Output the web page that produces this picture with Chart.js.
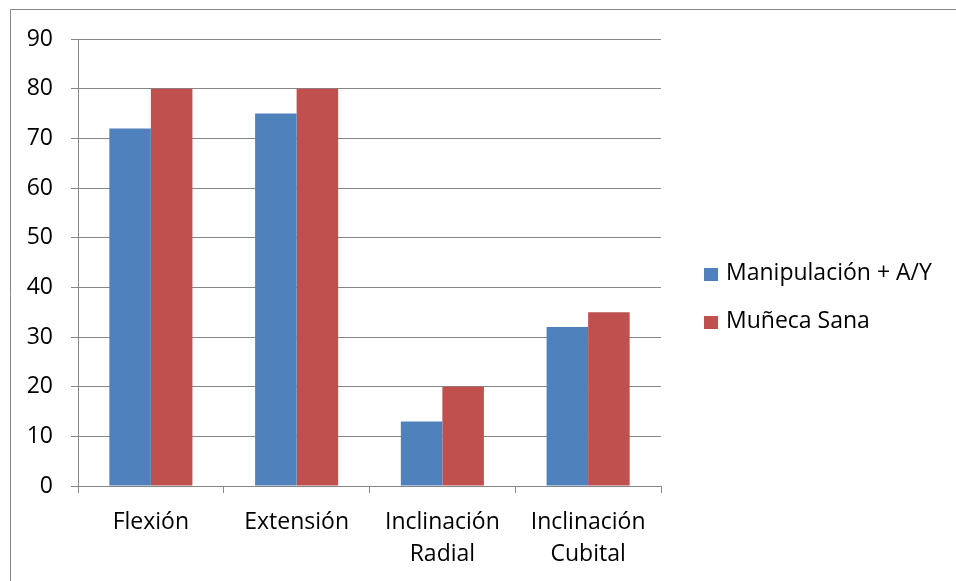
<!DOCTYPE html>
<html>
<head>
<meta charset="utf-8">
<title>Rango de movimiento de la muñeca</title>
<script src="https://cdn.jsdelivr.net/npm/chart.js@4/dist/chart.umd.min.js"></script>
<style>
  html, body { margin: 0; padding: 0; background: #ffffff; }
  #wrap { width: 956px; height: 581px; }
</style>
</head>
<body>
<div id="wrap"><canvas id="chart" width="956" height="581"></canvas></div>
<script>
// Movement categories (two-line labels where the name wraps)
const categories = [
  'Flexión',
  'Extensión',
  ['Inclinación', 'Radial'],
  ['Inclinación', 'Cubital']
];

// Range of motion (degrees) per group
const manipulacionValues = [72, 75, 13, 32];
const sanaValues = [80, 80, 20, 35];

const seriesNames = ['Manipulación + A/Y', 'Muñeca Sana'];
const seriesColors = ['#4F81BD', '#C0504D'];

// Y axis range and step
const yMin = 0;
const yMax = 90;
const yStep = 10;

const FONT_FAMILY = "'Open Sans', 'DejaVu Sans', sans-serif";
const FONT_SIZE = 23;
const GRID = '#868686';

// White background plus the grey frame lines along the top and left edges
const framePlugin = {
  id: 'frame',
  beforeDraw(chart) {
    const ctx = chart.ctx;
    ctx.save();
    ctx.fillStyle = '#ffffff';
    ctx.fillRect(0, 0, chart.width, chart.height);
    ctx.strokeStyle = GRID;
    ctx.lineWidth = 1;
    ctx.beginPath();
    ctx.moveTo(10.5, chart.height + 5);
    ctx.lineTo(10.5, 9.5);
    ctx.lineTo(chart.width + 5, 9.5);
    ctx.stroke();
    ctx.restore();
  }
};

// Legend on the right: coloured square followed by the series name
const sideLegend = {
  id: 'sideLegend',
  afterDraw(chart) {
    const ctx = chart.ctx;
    const x = 704;
    const firstY = 273;
    const rowGap = 48;
    ctx.save();
    ctx.font = FONT_SIZE + 'px ' + FONT_FAMILY;
    ctx.textBaseline = 'middle';
    ctx.textAlign = 'left';
    chart.data.datasets.forEach((ds, i) => {
      const cy = firstY + i * rowGap;
      ctx.fillStyle = ds.backgroundColor;
      ctx.fillRect(x, cy - 5, 14, 13);
      ctx.fillStyle = '#000000';
      ctx.fillText(ds.label, x + 22, cy);
    });
    ctx.restore();
  }
};

new Chart(document.getElementById('chart'), {
  type: 'bar',
  data: {
    labels: categories,
    datasets: [
      {
        label: seriesNames[0],
        data: manipulacionValues,
        backgroundColor: seriesColors[0]
      },
      {
        label: seriesNames[1],
        data: sanaValues,
        backgroundColor: seriesColors[1]
      }
    ]
  },
  options: {
    responsive: false,
    animation: false,
    devicePixelRatio: 1,
    layout: {
      padding: { left: 0, top: 39, right: 295, bottom: 0 }
    },
    datasets: {
      bar: {
        categoryPercentage: 0.57,
        barPercentage: 1.0
      }
    },
    plugins: {
      legend: { display: false },
      tooltip: { enabled: false }
    },
    scales: {
      x: {
        offset: true,
        grid: {
          display: true,
          offset: true,
          drawOnChartArea: false,
          drawTicks: true,
          tickLength: 7,
          color: GRID
        },
        border: { display: true, color: GRID, width: 1 },
        ticks: {
          color: '#000000',
          padding: 14,
          maxRotation: 0,
          autoSkip: false,
          font: { family: FONT_FAMILY, size: FONT_SIZE, lineHeight: 1.38 }
        },
        afterFit(scale) { scale.height = 95; }
      },
      y: {
        min: yMin,
        max: yMax,
        grid: {
          color: GRID,
          tickLength: 7,
          drawTicks: true
        },
        border: { display: true, color: GRID, width: 1 },
        ticks: {
          stepSize: yStep,
          color: '#000000',
          padding: 18,
          font: { family: FONT_FAMILY, size: FONT_SIZE }
        },
        afterFit(scale) { scale.width = 78; }
      }
    }
  },
  plugins: [framePlugin, sideLegend]
});
</script>
</body>
</html>
